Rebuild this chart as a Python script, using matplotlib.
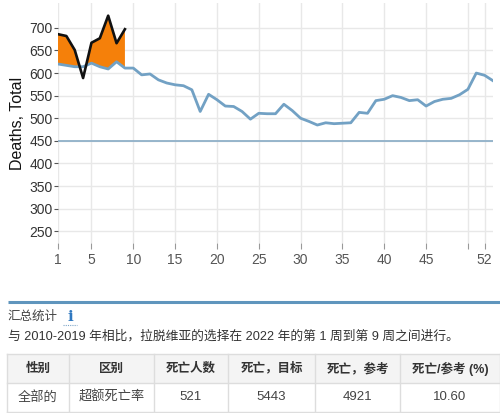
import numpy as np
import matplotlib.pyplot as plt

plt.rcParams['font.family'] = ['Liberation Sans', 'Noto Sans CJK SC', 'DejaVu Sans']

# weekly deaths, baseline (2010-2019 reference) for weeks 1..53
weeks = np.arange(1, 54)
baseline = [620, 617, 614, 614, 622, 614, 609, 625, 611, 611,
            596, 598, 585, 578, 574, 572, 563, 515, 553, 541,
            527, 526, 515, 498, 511, 510, 510, 531, 517, 500,
            493, 485, 490, 488, 489, 490, 513, 511, 539, 542,
            550, 546, 539, 541, 527, 537, 542, 544, 552, 564,
            600, 595, 583]
# 2022 observed deaths, weeks 1..9
weeks_2022 = np.arange(1, 10)
deaths_2022 = [686, 682, 651, 589, 667, 677, 727, 666, 697]
threshold = 450

xticks = [1, 5, 10, 15, 20, 25, 30, 35, 40, 45, 50, 52]
xticklabels = ['1', '5', '10', '15', '20', '25', '30', '35', '40', '45', '', '52']
yticks = [250, 300, 350, 400, 450, 500, 550, 600, 650, 700]

# summary table
summary_title = '汇总统计'
summary_text = '与 2010-2019 年相比，拉脱维亚的选择在 2022 年的第 1 周到第 9 周之间进行。'
table_header = ['性别', '区别', '死亡人数', '死亡，目标', '死亡，参考', '死亡/参考 (%)']
table_row = ['全部的', '超额死亡率', '521', '5443', '4921', '10.60']
col_edges = [7, 69, 154, 228, 315, 400, 500]

fig = plt.figure(figsize=(5, 4.13), dpi=100)
ax = fig.add_axes([58 / 500, 1 - 243 / 413, 435 / 500, 240 / 413])

ax.axhline(threshold, color='#8fb0c8', lw=1.3, zorder=2)
base_2022 = np.array(baseline[:len(weeks_2022)])
ax.fill_between(weeks_2022, base_2022, deaths_2022,
                where=np.array(deaths_2022) > base_2022, interpolate=True,
                color='#f5800a', lw=0, zorder=3)
ax.plot(weeks, baseline, color='#72a1c4', lw=2, zorder=4)
ax.plot(weeks_2022, deaths_2022, color='#111111', lw=1.9, zorder=5)

ax.set_xlim(1, 53)
ax.set_ylim(224, 755)
ax.set_xticks(xticks)
ax.set_xticklabels(xticklabels)
ax.set_yticks(yticks)
ax.grid(True, color='#e8e8e8', lw=1)
ax.set_axisbelow(True)
for s in ax.spines.values():
    s.set_visible(False)
ax.tick_params(axis='y', length=3, width=0.8, color='#555555', labelsize=10,
               labelcolor='#333333', pad=1)
ax.tick_params(axis='x', length=4, width=0.8, color='#999999', labelsize=10,
               labelcolor='#555555', pad=3)
ax.set_ylabel('Deaths, Total', fontsize=11.5, color='#111111', labelpad=3)

# lower part: summary text and table, drawn in pixel coordinates
ov = fig.add_axes([0, 0, 1, 1], zorder=-1)
ov.set_xlim(0, 500)
ov.set_ylim(413, 0)
ov.axis('off')

ov.plot([8, 500], [301.5, 301.5], color='#5f95bd', lw=2.2, solid_capstyle='butt')
ov.text(8, 317, summary_title, fontsize=9, color='#444444', va='center')
ov.text(70, 317, 'i', fontsize=11, color='#2f78c0', fontweight='bold',
        family='DejaVu Serif', ha='center', va='center')
ov.plot([63, 77], [325, 325], color='#7fa6c8', lw=0.8, ls=(0, (1, 1)))
ov.text(8, 336.5, summary_text, fontsize=9.2, color='#333333', va='center')

top, mid, bot = 354, 383, 413
ov.fill_between([col_edges[0], col_edges[-1]], top, mid, color='#f4f4f4', lw=0)
for y in (top, mid, bot - 1):
    ov.plot([col_edges[0], col_edges[-1]], [y, y], color='#dddddd', lw=1)
for x in col_edges:
    ov.plot([x, x], [top, bot], color='#dddddd', lw=1)
for i in range(len(table_header)):
    cx = (col_edges[i] + col_edges[i + 1]) / 2
    ov.text(cx, (top + mid) / 2, table_header[i], ha='center', va='center',
            fontsize=9, fontweight='bold', color='#333333')
    ov.text(cx, (mid + bot) / 2 - 0.5, table_row[i], ha='center', va='center',
            fontsize=9.5, color='#444444')

fig.savefig('out.png', dpi=100)
